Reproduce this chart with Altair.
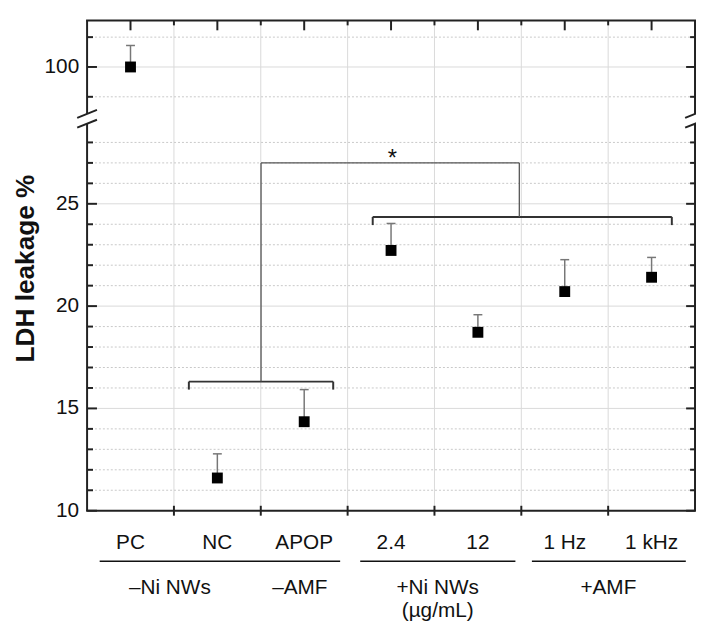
import altair as alt
import pandas as pd

# ---------------- data ----------------
categories = ["PC", "NC", "APOP", "2.4", "12", "1 Hz", "1 kHz"]
means = [100.0, 11.6, 14.35, 22.72, 18.72, 20.71, 21.41]
upper = [103.6, 12.78, 15.92, 24.04, 19.58, 22.27, 22.38]

y_major = [10, 15, 20, 25, 100]
y_minor = [11, 12, 13, 14, 16, 17, 18, 19, 21, 22, 23, 24, 26, 27, 28, 95, 105]
x_bounds = [1, 2, 3, 4, 5, 6]
y_title = ["LDH leakage %"]

group_labels = ["\u2013Ni NWs", "\u2013AMF", "+Ni NWs", "+AMF"]
group_label_x = [0.953, 2.45, 4.037, 6.002]
unit_label = ["(\u00b5g/mL)"]
unit_label_x = [4.037]
group_line_x1 = [0.145, 3.145, 5.122]
group_line_x2 = [2.914, 4.932, 6.894]

# significance brackets (category units / LDH %)
bracket_x1 = [1.172, 1.172, 2.834, 3.289, 3.289, 6.733]
bracket_x2 = [2.834, 1.172, 2.834, 6.733, 3.289, 6.733]
bracket_y1 = [16.31, 16.31, 16.31, 24.36, 24.36, 24.36]
bracket_y2 = [16.31, 15.92, 15.92, 24.36, 23.96, 23.96]
conn_x1 = [2.003, 2.003, 4.977]
conn_x2 = [2.003, 4.977, 4.977]
conn_y1 = [16.31, 27.0, 27.0]
conn_y2 = [27.0, 27.0, 24.36]
star_x = [3.471]
star_y = [27.0]

# ---------------- layout ----------------
W, H = 615, 496
FONT = "Liberation Sans"
FRAME = "#222222"
TXT = "#111111"

xs = alt.Scale(domain=[0, 7], nice=False, zero=False)
ys = alt.Scale(domain=[10, 29.18, 91.4, 107.8], range=[H, 99, 99, 0], nice=False, zero=False)

df = pd.DataFrame({
    "cat": categories,
    "x": [i + 0.5 for i in range(len(categories))],
    "mean": means,
    "upper": upper,
})

one = pd.DataFrame({"k": [0]})


def X(f):
    return alt.X(f, type="quantitative", scale=xs, axis=None)


def Y(f):
    return alt.Y(f, type="quantitative", scale=ys, axis=None)


def seg(x1, y1, x2, y2, color=FRAME, width=2):
    return alt.Chart(one).mark_rule(color=color, strokeWidth=width, strokeCap="butt").encode(
        x=alt.value(x1), y=alt.value(y1), x2=alt.value(x2), y2=alt.value(y2))


layers = []

# grid
layers.append(alt.Chart(pd.DataFrame({"x": x_bounds})).mark_rule(color="#dadada", strokeWidth=1).encode(
    x=X("x"), y=alt.value(0), y2=alt.value(H)))
layers.append(alt.Chart(pd.DataFrame({"y": y_minor})).mark_rule(color="#c8c8c8", strokeWidth=1, strokeDash=[2, 2]).encode(
    y=Y("y"), x=alt.value(0), x2=alt.value(W)))
layers.append(alt.Chart(pd.DataFrame({"y": y_major[1:]})).mark_rule(color="#dadada", strokeWidth=1).encode(
    y=Y("y"), x=alt.value(0), x2=alt.value(W)))

# inward ticks
tick = dict(color=FRAME, strokeWidth=2, strokeCap="butt")
layers.append(alt.Chart(pd.DataFrame({"y": y_major})).mark_rule(**tick).encode(y=Y("y"), x=alt.value(0), x2=alt.value(10)))
layers.append(alt.Chart(pd.DataFrame({"y": y_minor})).mark_rule(**tick).encode(y=Y("y"), x=alt.value(0), x2=alt.value(6)))
layers.append(alt.Chart(pd.DataFrame({"y": y_major})).mark_rule(**tick).encode(y=Y("y"), x=alt.value(W - 9), x2=alt.value(W)))
layers.append(alt.Chart(pd.DataFrame({"y": y_minor})).mark_rule(**tick).encode(y=Y("y"), x=alt.value(W - 5), x2=alt.value(W)))
layers.append(alt.Chart(df).mark_rule(**tick).encode(x=X("x"), y=alt.value(0), y2=alt.value(10)))
layers.append(alt.Chart(pd.DataFrame({"x": x_bounds})).mark_rule(**tick).encode(x=X("x"), y=alt.value(0), y2=alt.value(5)))
layers.append(alt.Chart(pd.DataFrame({"x": x_bounds})).mark_rule(**tick).encode(x=X("x"), y=alt.value(H - 5), y2=alt.value(H + 5)))

# frame with axis break
layers += [
    seg(-1, 0, W + 1, 0),
    seg(-1, H, W + 1, H),
    seg(0, 0, 0, 94.5),
    seg(0, 104.5, 0, H),
    seg(W, 0, W, 94.5),
    seg(W, 104.5, W, H),
    seg(-10, 98.5, 10, 90.5),
    seg(-10, 108.5, 10, 100.5),
    seg(W - 10, 98.5, W + 10, 90.5),
    seg(W - 10, 108.5, W + 10, 100.5),
]

# y tick labels and title
layers.append(alt.Chart(pd.DataFrame({"y": y_major})).mark_text(
    font=FONT, fontSize=21, color=TXT, align="right", baseline="middle").encode(
    y=Y("y"), x=alt.value(-8), text=alt.Text("y:Q", format="d")))
layers.append(alt.Chart(pd.DataFrame({"t": y_title})).mark_text(
    font=FONT, fontSize=26.5, fontWeight="bold", color=TXT, align="center", baseline="middle", angle=270).encode(
    x=alt.value(-62), y=alt.value(251), text="t:N"))

# brackets
br = pd.DataFrame({"x1": bracket_x1, "x2": bracket_x2, "y1": bracket_y1, "y2": bracket_y2})
layers.append(alt.Chart(br).mark_rule(color="#333333", strokeWidth=2).encode(
    x=X("x1"), x2="x2", y=Y("y1"), y2="y2"))
cn = pd.DataFrame({"x1": conn_x1, "x2": conn_x2, "y1": conn_y1, "y2": conn_y2})
layers.append(alt.Chart(cn).mark_rule(color="#555555", strokeWidth=1.3).encode(
    x=X("x1"), x2="x2", y=Y("y1"), y2="y2"))
layers.append(alt.Chart(pd.DataFrame({"x": star_x, "y": star_y, "t": ["*"]})).mark_text(
    font=FONT, fontSize=24, color=TXT, baseline="alphabetic", dy=3, dx=4).encode(
    x=X("x"), y=Y("y"), text="t:N"))

# error bars
layers.append(alt.Chart(df).mark_rule(color="#777777", strokeWidth=1.5).encode(
    x=X("x"), y=Y("mean"), y2="upper"))
layers.append(alt.Chart(df).mark_rule(color="#777777", strokeWidth=1.5, xOffset=-4.5, x2Offset=4.5).encode(
    x=X("x"), x2="x", y=Y("upper")))

# points
layers.append(alt.Chart(df).mark_square(size=121, color="#000000", opacity=1).encode(
    x=X("x"), y=Y("mean")))

# category labels
layers.append(alt.Chart(df).mark_text(font=FONT, fontSize=21, color=TXT, baseline="middle").encode(
    x=X("x"), y=alt.value(H + 33), text="cat:N"))

# group lines and labels
gl = pd.DataFrame({"x1": group_line_x1, "x2": group_line_x2})
layers.append(alt.Chart(gl).mark_rule(color=TXT, strokeWidth=1.5).encode(
    x=X("x1"), x2="x2", y=alt.value(H + 51)))
layers.append(alt.Chart(pd.DataFrame({"x": group_label_x, "t": group_labels})).mark_text(
    font=FONT, fontSize=21, color=TXT, baseline="middle").encode(
    x=X("x"), y=alt.value(H + 78), text="t:N"))
layers.append(alt.Chart(pd.DataFrame({"x": unit_label_x, "t": unit_label})).mark_text(
    font=FONT, fontSize=21, color=TXT, baseline="middle").encode(
    x=X("x"), y=alt.value(H + 102), text="t:N"))

chart = alt.layer(*layers).properties(
    width=W, height=H,
    padding={"left": 80, "top": 9, "right": 1, "bottom": 109},
    autosize=alt.AutoSizeParams(type="none"),
).configure_view(stroke=None)

chart.save("out.html", embed_options={"renderer": "svg", "actions": False})
